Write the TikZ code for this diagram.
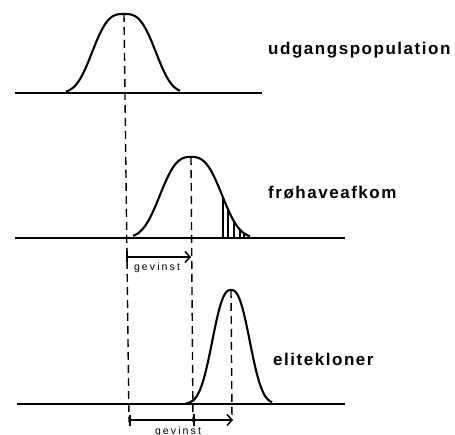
\documentclass[tikz,border=0pt]{standalone}
\usepackage{fontspec}
\setmainfont{Liberation Sans}
\newfontfamily\navnfont[LetterSpace=9]{Liberation Sans}
\newfontfamily\gevinstfont[LetterSpace=20]{Liberation Sans}
\usetikzlibrary{arrows.meta, calc}
\tikzset{
  akse/.style={line width=1.7pt},
  kurve/.style={line width=2.1pt, smooth, samples=80},
  middel/.style={line width=1.4pt, dash pattern=on 8pt off 5pt},
  gevinstpil/.style={line width=1.5pt, {Bar[width=11pt]}-{Straight Barb[length=5pt,width=11pt]}},
  navn/.style={font=\navnfont\fontsize{17}{20}\selectfont\bfseries, anchor=base west, inner sep=0pt},
  lille/.style={font=\gevinstfont\fontsize{10.5}{12}\selectfont, anchor=base, inner sep=0pt}
}

\begin{document}
\begin{tikzpicture}[x=1pt, y=-1pt,
        declare function={
          udgang(\x)=93-79*exp(-(abs(\x-124)/36.6)^3);
          afkom(\x)=238-81*exp(-(abs(\x-191)/36.5)^2.8);
          elite(\x)=404-114*exp(-(abs(\x-231)/23.1)^2.5);
        }]
  \useasboundingbox (0,0) rectangle (455,435);

  % --- Middelværdier ---
  \coordinate (m1) at (124,14);
  \coordinate (m2) at (191,157);
  \coordinate (m3) at (231,290);
  \coordinate (m1bund) at (129,422);
  \coordinate (m2bund) at (193,422);
  \coordinate (m3bund) at (232,420);

  % --- Udgangspopulation ---
  \draw[akse] (15,93) coordinate (a1) -- (262,93) coordinate (b1);
  \draw[kurve] plot[domain=66:180] (\x,{udgang(\x)});
  \node (udgang) [navn] at (268,55) {udgangspopulation};

  % --- Frøhaveafkom ---
  \draw[akse] (15,238) coordinate (a2) -- (345,238) coordinate (b2);
  \draw[kurve] plot[domain=133:250] (\x,{afkom(\x)});
  % skraveret hale
  \foreach \hx in {223,228,234,240,244}
    \draw[line width=1.1pt] (\hx,{afkom(\hx)}) -- (\hx,238);
  \node (afkom) [navn] at (268,199) {frøhaveafkom};

  % --- Elitekloner ---
  \draw[akse] (17,404) coordinate (a3) -- (345,404) coordinate (b3);
  \draw[kurve] plot[domain=186:272] (\x,{elite(\x)});
  \node (elite) [navn] at (273,366) {elitekloner};

  % --- Stiplede linjer ---
  \draw[middel] (m1) -- (m1bund);
  \draw[middel] (m2) -- (m2bund);
  \draw[middel] (m3) -- (m3bund);

  % --- Gevinst ---
  \coordinate (g1a) at (126,257);
  \coordinate (g1b) at (191,257);
  \draw[gevinstpil] (g1a) -- (g1b);
  \node (gevinst1) [lille] at (157,271) {gevinst};

  \coordinate (g2a) at (129,420);
  \coordinate (g2m) at (194,420);
  \coordinate (g2b) at (233,420);
  \draw[gevinstpil] (g2a) -- (g2b);
  \draw[line width=1.5pt] ($(g2m)+(0,-6)$) -- ($(g2m)+(0,6)$);
  \node (gevinst2) [lille] at (178,434) {gevinst};
\end{tikzpicture}
\end{document}
